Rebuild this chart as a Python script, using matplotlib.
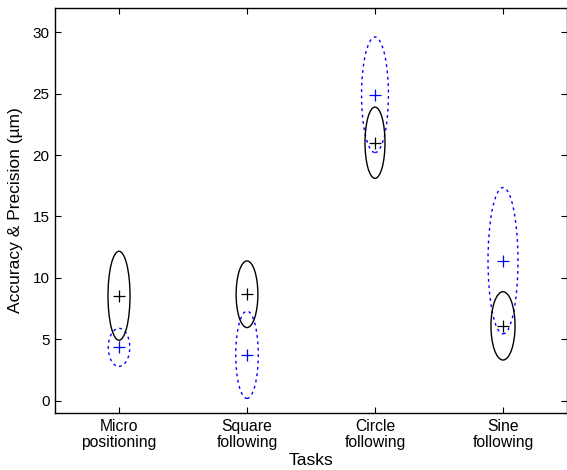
import numpy as np
import matplotlib.pyplot as plt
from matplotlib.patches import Ellipse

plt.rcParams['font.family'] = ['Liberation Sans', 'DejaVu Sans']

tasks = ['Micro\npositioning', 'Square\nfollowing', 'Circle\nfollowing', 'Sine\nfollowing']

# black (solid) ellipses: centre, vertical half-size, horizontal half-size
black_center = [8.55, 8.67, 21.0, 6.1]
black_half_h = [3.62, 2.71, 2.9, 2.78]
black_half_w = [0.086, 0.085, 0.078, 0.094]

# blue (dotted) ellipses
blue_center = [4.35, 3.75, 24.9, 11.4]
blue_half_h = [1.55, 3.55, 4.7, 5.95]
blue_half_w = [0.084, 0.088, 0.105, 0.117]

fig = plt.figure(figsize=(5.67, 4.70), dpi=100)
ax = fig.add_axes([0.097, 0.121, 0.903, 0.863])

x = np.arange(1, len(tasks) + 1)

for i in range(len(tasks)):
    ax.add_patch(Ellipse((x[i], blue_center[i]), 2 * blue_half_w[i], 2 * blue_half_h[i],
                         fill=False, edgecolor='blue', lw=1.0, linestyle=(0, (2.0, 2.6))))
    ax.add_patch(Ellipse((x[i], black_center[i]), 2 * black_half_w[i], 2 * black_half_h[i],
                         fill=False, edgecolor='black', lw=1.0))

ax.plot(x, blue_center, '+', color='blue', ms=9, mew=0.9)
ax.plot(x, black_center, '+', color='black', ms=9, mew=0.9)

ax.set_xlim(0.5, 4.5)
ax.set_ylim(-1, 32)
ax.set_xticks(x)
ax.set_xticklabels(tasks, fontsize=11.3, linespacing=1.1)
ax.set_yticks(range(0, 31, 5))
ax.tick_params(axis='y', labelsize=11, pad=4)
ax.tick_params(axis='x', pad=4)
ax.tick_params(direction='in', top=True, right=True, length=4, width=0.8)
ax.set_xlabel('Tasks', fontsize=12.5, labelpad=2)
ax.set_ylabel('Accuracy & Precision (\u00b5m)', fontsize=12.5, labelpad=7)
for s in ax.spines.values():
    s.set_linewidth(1.0)

fig.savefig('out.png', dpi=100)
